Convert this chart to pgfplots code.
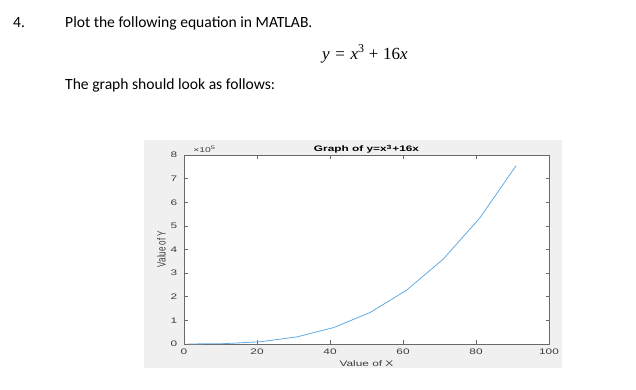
\documentclass[border=0pt]{standalone}
\usepackage{fontspec}
\setmainfont{Carlito}
\newfontfamily\arial{Liberation Sans}
\newfontfamily\serifeq{Liberation Serif}
\usepackage{pgfplots}
\pgfplotsset{compat=1.18}
\definecolor{figbg}{RGB}{240,240,240}
\definecolor{axcol}{RGB}{105,105,105}
\definecolor{lblcol}{RGB}{60,60,60}
\definecolor{curve}{RGB}{100,172,228}
\begin{document}
\begin{tikzpicture}
\path[use as bounding box] (0pt,0pt) rectangle (636pt,390pt);
% document text
\node[anchor=base west,inner sep=0,font=\fontsize{15.6}{18}\selectfont] at (13pt,362pt) {4.};
\node[anchor=base west,inner sep=0,font=\fontsize{15.6}{18}\selectfont] at (65pt,362pt) {Plot the following equation in MATLAB.};
\node[anchor=base west,inner sep=0,font=\serifeq\fontsize{17}{19}\selectfont] at (322pt,330pt) {\textit{y}\hspace{0.33em}=\hspace{0.33em}\textit{x}\raisebox{0.42em}{\fontsize{12}{12}\selectfont 3}\hspace{0.28em}+\hspace{0.28em}16\textit{x}};
\node[anchor=base west,inner sep=0,font=\fontsize{15.6}{18}\selectfont] at (65pt,300pt) {The graph should look as follows:};
% figure background
\fill[figbg] (144pt,22pt) rectangle (562pt,250pt);
\begin{axis}[
  at={(184pt,46pt)}, anchor=south west,
  scale only axis, width=365pt, height=189pt,
  xmin=0, xmax=100, ymin=0, ymax=800000,
  xtick={0,20,40,60,80,100},
  xticklabels={0,20,40,60,80,100},
  ytick={0,100000,200000,300000,400000,500000,600000,700000,800000},
  yticklabels={0,1,2,3,4,5,6,7,8},
  scaled y ticks=false,
  /pgf/number format/assume math mode=true,
  axis background/.style={fill=white},
  axis line style={axcol, line width=0.6pt},
  tick style={axcol, line width=0.6pt},
  major tick length=3.5pt,
  tick align=inside,
  xtick pos=both, ytick pos=both,
  tick label style={font=\arial\fontsize{8}{9}\selectfont, text=lblcol, xscale=1.48},
  xticklabel style={yshift=-1pt},
  yticklabel style={xshift=-1pt},
  clip=false,
]
\addplot[curve, line width=0.8pt] coordinates {
(1,17) (11,1507) (21,9597) (31,30287) (41,69577) (51,133467)
(61,227957) (71,359047) (81,532737) (91,755027)
};
\end{axis}
% figure texts
\node[anchor=base,inner sep=0,xscale=1.48,font=\arial\bfseries\fontsize{8}{9}\selectfont,text=black] at (366.5pt,238pt) {Graph of y=x\textsuperscript{3}+16x};
\node[anchor=base west,inner sep=0,xscale=1.48,font=\arial\fontsize{7}{8}\selectfont,text=lblcol] at (193pt,237pt) {×10\textsuperscript{5}};
\node[anchor=base,inner sep=0,xscale=1.48,font=\arial\fontsize{8}{9}\selectfont,text=lblcol] at (366.5pt,23pt) {Value of X};
\node[inner sep=0,xscale=1.48,rotate=90,font=\arial\fontsize{8}{9}\selectfont,text=lblcol] at (161.5pt,141pt) {Value of Y};
\end{tikzpicture}
\end{document}
